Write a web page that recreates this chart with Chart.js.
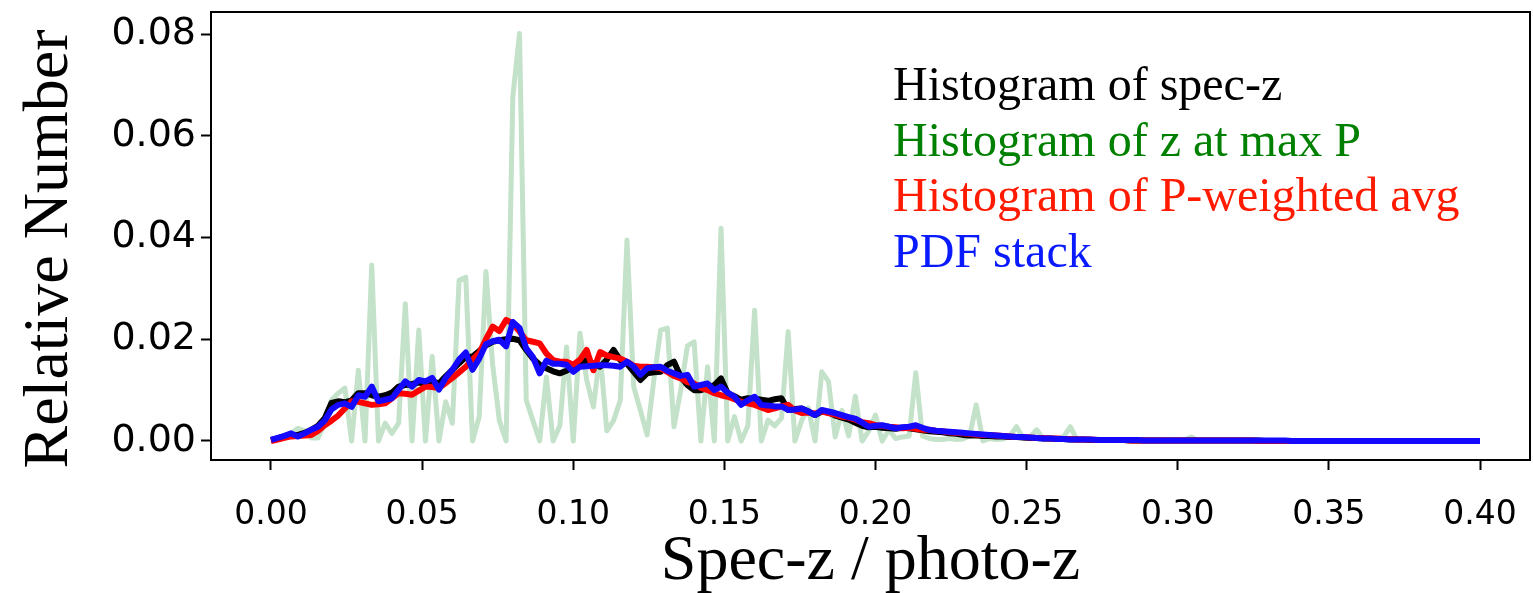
<!DOCTYPE html>
<html>
<head>
<meta charset="utf-8">
<title>Spec-z / photo-z distributions</title>
<script src="https://cdn.jsdelivr.net/npm/chart.js@4.4.1/dist/chart.umd.min.js"></script>
<style>
    html, body { margin: 0; padding: 0; background: #fff; }
    #wrap { width: 1533px; height: 593px; position: relative; }
</style>
</head>
<body>
<div id="wrap"><canvas id="zChart"></canvas></div>
<script>
// bins run from 0 to 0.4 in 180 steps
const binStep = 0.4 / 180;

// Histogram of z at max P (green, light)
const maxPHist = [
    0.0000, 0.0005, 0.0010, 0.0015, 0.0025, 0.0020, 0.0006, 0.0006, 0.0035, 0.0080,
    0.0094, 0.0104, 0.0000, 0.0139, 0.0000, 0.0346, 0.0000, 0.0035, 0.0015, 0.0035,
    0.0270, 0.0000, 0.0218, 0.0000, 0.0166, 0.0000, 0.0077, 0.0035, 0.0316, 0.0322,
    0.0000, 0.0048, 0.0333, 0.0150, 0.0040, 0.0000, 0.0676, 0.0801, 0.0080, 0.0040,
    0.0000, 0.0126, 0.0000, 0.0030, 0.0185, 0.0000, 0.0212, 0.0120, 0.0067, 0.0173,
    0.0020, 0.0040, 0.0080, 0.0395, 0.0107, 0.0060, 0.0012, 0.0120, 0.0218, 0.0222,
    0.0028, 0.0100, 0.0187, 0.0195, 0.0000, 0.0146, 0.0000, 0.0418, 0.0000, 0.0048,
    0.0000, 0.0030, 0.0257, 0.0000, 0.0041, 0.0030, 0.0045, 0.0215, 0.0000, 0.0040,
    0.0065, 0.0000, 0.0136, 0.0117, 0.0008, 0.0060, 0.0010, 0.0088, 0.0000, 0.0020,
    0.0051, 0.0000, 0.0022, 0.0005, 0.0008, 0.0010, 0.0134, 0.0010, 0.0005, 0.0003,
    0.0003, 0.0005, 0.0003, 0.0004, 0.0010, 0.0071, 0.0000, 0.0005, 0.0003, 0.0004,
    0.0010, 0.0028, 0.0005, 0.0008, 0.0022, 0.0004, 0.0003, 0.0005, 0.0008, 0.0028,
    0.0002, 0.0003, 0.0002, 0.0004, 0.0002, 0.0003, 0.0002, 0.0002, 0.0003, 0.0002,
    0.0002, 0.0001, 0.0002, 0.0001, 0.0002, 0.0001, 0.0002, 0.0008, 0.0001, 0.0001,
    0.0001, 0.0001, 0.0001, 0.0001, 0.0000, 0.0001, 0.0000, 0.0001, 0.0000, 0.0000,
    0.0000, 0.0000, 0.0000, 0.0000, 0.0000, 0.0000, 0.0000, 0.0000, 0.0000, 0.0000,
    0.0000, 0.0000, 0.0000, 0.0000, 0.0000, 0.0000, 0.0000, 0.0000, 0.0000, 0.0000,
    0.0000, 0.0000, 0.0000, 0.0000, 0.0000, 0.0000, 0.0000, 0.0000, 0.0000, 0.0000,
    0.0000
];

// Histogram of spec-z (black)
const specZHist = [
    0.0002, 0.0005, 0.0009, 0.0012, 0.0012, 0.0016, 0.0022, 0.0030, 0.0045, 0.0075,
    0.0078, 0.0076, 0.0080, 0.0094, 0.0094, 0.0090, 0.0087, 0.0090, 0.0095, 0.0107,
    0.0110, 0.0112, 0.0115, 0.0113, 0.0118, 0.0113, 0.0127, 0.0140, 0.0153, 0.0165,
    0.0166, 0.0177, 0.0188, 0.0195, 0.0198, 0.0200, 0.0201, 0.0198, 0.0179, 0.0162,
    0.0150, 0.0143, 0.0137, 0.0133, 0.0138, 0.0146, 0.0152, 0.0159, 0.0152, 0.0146,
    0.0160, 0.0179, 0.0159, 0.0152, 0.0136, 0.0120, 0.0133, 0.0135, 0.0136, 0.0149,
    0.0156, 0.0126, 0.0110, 0.0100, 0.0100, 0.0105, 0.0110, 0.0123, 0.0094, 0.0088,
    0.0081, 0.0084, 0.0083, 0.0081, 0.0079, 0.0082, 0.0084, 0.0061, 0.0063, 0.0064,
    0.0058, 0.0051, 0.0058, 0.0056, 0.0050, 0.0046, 0.0042, 0.0036, 0.0030, 0.0027,
    0.0028, 0.0026, 0.0025, 0.0024, 0.0026, 0.0025, 0.0023, 0.0021, 0.0019, 0.0018,
    0.0017, 0.0015, 0.0014, 0.0012, 0.0011, 0.0011, 0.0010, 0.0010, 0.0009, 0.0009,
    0.0008, 0.0008, 0.0007, 0.0006, 0.0006, 0.0005, 0.0005, 0.0004, 0.0004, 0.0003,
    0.0003, 0.0003, 0.0002, 0.0002, 0.0002, 0.0002, 0.0002, 0.0002, 0.0001, 0.0001,
    0.0001, 0.0001, 0.0001, 0.0001, 0.0001, 0.0001, 0.0001, 0.0001, 0.0001, 0.0001,
    0.0001, 0.0001, 0.0001, 0.0001, 0.0001, 0.0001, 0.0001, 0.0001, 0.0000, 0.0000,
    0.0000, 0.0000, 0.0000, 0.0000, 0.0000, 0.0000, 0.0000, 0.0000, 0.0000, 0.0000,
    0.0000, 0.0000, 0.0000, 0.0000, 0.0000, 0.0000, 0.0000, 0.0000, 0.0000, 0.0000,
    0.0000, 0.0000, 0.0000, 0.0000, 0.0000, 0.0000, 0.0000, 0.0000, 0.0000, 0.0000,
    0.0000
];

// Histogram of P-weighted avg (red)
const weightedHist = [
    0.0000, 0.0003, 0.0006, 0.0009, 0.0010, 0.0011, 0.0012, 0.0020, 0.0031, 0.0040,
    0.0050, 0.0064, 0.0078, 0.0077, 0.0074, 0.0071, 0.0072, 0.0074, 0.0084, 0.0094,
    0.0093, 0.0091, 0.0099, 0.0107, 0.0106, 0.0104, 0.0114, 0.0124, 0.0135, 0.0146,
    0.0160, 0.0173, 0.0200, 0.0225, 0.0216, 0.0238, 0.0231, 0.0215, 0.0198, 0.0195,
    0.0192, 0.0172, 0.0159, 0.0156, 0.0156, 0.0150, 0.0160, 0.0179, 0.0139, 0.0175,
    0.0168, 0.0165, 0.0162, 0.0156, 0.0148, 0.0146, 0.0146, 0.0145, 0.0143, 0.0136,
    0.0128, 0.0123, 0.0116, 0.0113, 0.0105, 0.0100, 0.0094, 0.0090, 0.0087, 0.0082,
    0.0077, 0.0074, 0.0071, 0.0066, 0.0061, 0.0064, 0.0068, 0.0071, 0.0060, 0.0055,
    0.0056, 0.0054, 0.0058, 0.0055, 0.0052, 0.0048, 0.0046, 0.0042, 0.0037, 0.0035,
    0.0031, 0.0030, 0.0028, 0.0027, 0.0025, 0.0026, 0.0024, 0.0022, 0.0022, 0.0020,
    0.0019, 0.0017, 0.0016, 0.0015, 0.0014, 0.0013, 0.0012, 0.0012, 0.0011, 0.0010,
    0.0009, 0.0008, 0.0008, 0.0007, 0.0006, 0.0006, 0.0005, 0.0005, 0.0004, 0.0004,
    0.0003, 0.0003, 0.0003, 0.0002, 0.0002, 0.0002, 0.0002, 0.0002, 0.0001, 0.0001,
    0.0001, 0.0001, 0.0001, 0.0001, 0.0001, 0.0001, 0.0001, 0.0001, 0.0001, 0.0001,
    0.0001, 0.0001, 0.0001, 0.0001, 0.0001, 0.0001, 0.0001, 0.0000, 0.0000, 0.0000,
    0.0000, 0.0000, 0.0000, 0.0000, 0.0000, 0.0000, 0.0000, 0.0000, 0.0000, 0.0000,
    0.0000, 0.0000, 0.0000, 0.0000, 0.0000, 0.0000, 0.0000, 0.0000, 0.0000, 0.0000,
    0.0000, 0.0000, 0.0000, 0.0000, 0.0000, 0.0000, 0.0000, 0.0000, 0.0000, 0.0000,
    0.0000
];

// PDF stack (blue)
const pdfStack = [
    0.0002, 0.0006, 0.0010, 0.0015, 0.0009, 0.0015, 0.0022, 0.0028, 0.0040, 0.0062,
    0.0071, 0.0074, 0.0067, 0.0090, 0.0087, 0.0107, 0.0078, 0.0081, 0.0084, 0.0101,
    0.0117, 0.0107, 0.0120, 0.0117, 0.0124, 0.0101, 0.0124, 0.0140, 0.0160, 0.0174,
    0.0140, 0.0162, 0.0190, 0.0196, 0.0199, 0.0186, 0.0234, 0.0222, 0.0182, 0.0165,
    0.0133, 0.0158, 0.0152, 0.0152, 0.0150, 0.0136, 0.0146, 0.0147, 0.0148, 0.0149,
    0.0149, 0.0148, 0.0146, 0.0156, 0.0146, 0.0130, 0.0143, 0.0145, 0.0146, 0.0138,
    0.0133, 0.0128, 0.0130, 0.0107, 0.0110, 0.0113, 0.0100, 0.0107, 0.0095, 0.0087,
    0.0071, 0.0080, 0.0087, 0.0071, 0.0070, 0.0068, 0.0068, 0.0061, 0.0062, 0.0064,
    0.0058, 0.0051, 0.0061, 0.0058, 0.0055, 0.0051, 0.0047, 0.0044, 0.0036, 0.0028,
    0.0030, 0.0031, 0.0028, 0.0025, 0.0027, 0.0028, 0.0031, 0.0026, 0.0022, 0.0020,
    0.0019, 0.0018, 0.0017, 0.0016, 0.0015, 0.0014, 0.0013, 0.0012, 0.0011, 0.0010,
    0.0009, 0.0008, 0.0008, 0.0007, 0.0006, 0.0005, 0.0005, 0.0004, 0.0004, 0.0003,
    0.0003, 0.0003, 0.0003, 0.0002, 0.0002, 0.0002, 0.0002, 0.0002, 0.0002, 0.0002,
    0.0001, 0.0001, 0.0001, 0.0001, 0.0001, 0.0001, 0.0001, 0.0001, 0.0001, 0.0001,
    0.0001, 0.0001, 0.0001, 0.0001, 0.0001, 0.0001, 0.0001, 0.0001, 0.0001, 0.0001,
    0.0001, 0.0001, 0.0000, 0.0000, 0.0000, 0.0000, 0.0000, 0.0000, 0.0000, 0.0000,
    0.0000, 0.0000, 0.0000, 0.0000, 0.0000, 0.0000, 0.0000, 0.0000, 0.0000, 0.0000,
    0.0000, 0.0000, 0.0000, 0.0000, 0.0000, 0.0000, 0.0000, 0.0000, 0.0000, 0.0000,
    0.0000
];

const xTicks = [0.00, 0.05, 0.10, 0.15, 0.20, 0.25, 0.30, 0.35, 0.40];
const yTicks = [0.00, 0.02, 0.04, 0.06, 0.08];

const legendLabels = [
    'Histogram of spec-z',
    'Histogram of z at max P',
    'Histogram of P-weighted avg',
    'PDF stack'
];
const legendColors = ['#000000', '#008000', '#ff1a00', '#0a1aff'];

const xTitle = 'Spec-z / photo-z';
const yTitle = 'Relative Number';

const toPoints = (arr) => arr.map((v, i) => ({ x: i * binStep, y: v }));

// frame, legend text and axis titles
const decorPlugin = {
    id: 'decor',
    afterDraw(chart) {
        const { ctx, chartArea: a } = chart;
        ctx.save();
        ctx.strokeStyle = '#000';
        ctx.lineWidth = 2;
        ctx.strokeRect(a.left, a.top, a.right - a.left, a.bottom - a.top);

        ctx.font = '48px "Liberation Serif"';
        ctx.textAlign = 'left';
        ctx.textBaseline = 'alphabetic';
        legendLabels.forEach((t, i) => {
            ctx.fillStyle = legendColors[i];
            ctx.fillText(t, 893, 100 + i * 55.6);
        });

        ctx.fillStyle = '#000';
        ctx.font = '64px "Liberation Serif"';
        ctx.textAlign = 'center';
        ctx.fillText(xTitle, (a.left + a.right) / 2, 579);
        ctx.translate(67, 249);
        ctx.rotate(-Math.PI / 2);
        ctx.fillText(yTitle, 0, 0);
        ctx.restore();
    }
};

const lineStyle = {
    fill: false,
    tension: 0,
    pointRadius: 0,
    borderJoinStyle: 'round',
    borderCapStyle: 'butt'
};

new Chart(document.getElementById('zChart'), {
    type: 'line',
    data: {
        datasets: [
            { ...lineStyle, label: legendLabels[1], data: toPoints(maxPHist), borderColor: '#c3e2c9', borderWidth: 5, order: 4 },
            { ...lineStyle, label: legendLabels[0], data: toPoints(specZHist), borderColor: '#000000', borderWidth: 6, order: 3 },
            { ...lineStyle, label: legendLabels[2], data: toPoints(weightedHist), borderColor: '#ff0000', borderWidth: 6, order: 2 },
            { ...lineStyle, label: legendLabels[3], data: toPoints(pdfStack), borderColor: '#1408ff', borderWidth: 6, order: 1 }
        ]
    },
    options: {
        responsive: true,
        maintainAspectRatio: false,
        animation: false,
        layout: { padding: { top: 12, right: 3, left: 0, bottom: 0 } },
        plugins: {
            legend: { display: false },
            tooltip: { enabled: false }
        },
        scales: {
            x: {
                type: 'linear',
                min: -0.01985,
                max: 0.41654,
                afterFit: (s) => { s.height = 133; s.paddingLeft = 0; s.paddingRight = 0; },
                afterBuildTicks: (s) => { s.ticks = xTicks.map(v => ({ value: v })); },
                grid: {
                    display: true,
                    drawOnChartArea: false,
                    drawTicks: true,
                    tickLength: 10,
                    tickWidth: 2,
                    tickColor: '#000'
                },
                border: { display: true, color: '#000', width: 2 },
                ticks: {
                    color: '#000',
                    padding: 26,
                    maxRotation: 0,
                    font: { family: 'DejaVu Sans', size: 33 },
                    callback: (v) => Number(v).toFixed(2)
                }
            },
            y: {
                type: 'linear',
                min: -0.003735,
                max: 0.08433,
                afterFit: (s) => { s.width = 211; s.paddingTop = 0; s.paddingBottom = 0; },
                afterBuildTicks: (s) => { s.ticks = yTicks.map(v => ({ value: v })); },
                grid: {
                    display: true,
                    drawOnChartArea: false,
                    drawTicks: true,
                    tickLength: 10,
                    tickWidth: 2,
                    tickColor: '#000'
                },
                border: { display: true, color: '#000', width: 2 },
                ticks: {
                    color: '#000',
                    padding: 5,
                    font: { family: 'DejaVu Sans', size: 38 },
                    callback: (v) => Number(v).toFixed(2)
                }
            }
        }
    },
    plugins: [decorPlugin]
});
</script>
</body>
</html>
